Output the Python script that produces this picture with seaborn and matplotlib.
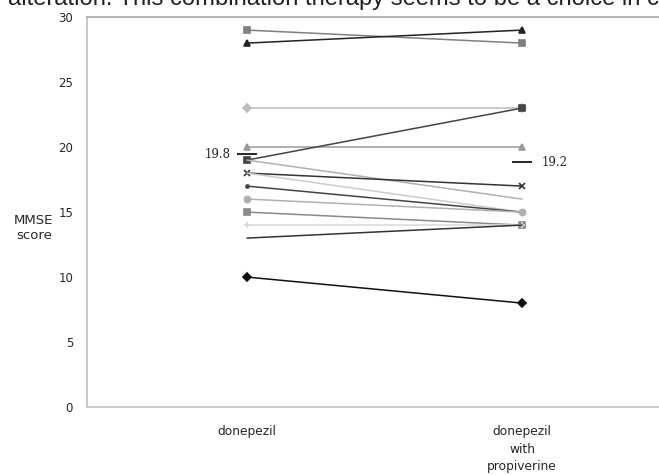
import pandas as pd
import matplotlib
matplotlib.use('Agg')
import matplotlib.pyplot as plt
import seaborn as sns

# MMSE score per patient: before (donepezil) and after (donepezil with propiverine)
conditions = ['donepezil', 'donepezil\nwith\npropiverine']
score_before = [29, 28, 23, 20, 19, 19, 18, 18, 17, 16, 15, 14, 13, 10]
score_after = [28, 29, 23, 20, 23, 16, 17, 15, 15, 15, 14, 14, 14, 8]
patient_markers = ['s', '^', 'D', '^', 's', '', 'x', '', '.', 'o', 's', '+', '', 'D']
patient_colors = ['#808080', '#222222', '#bdbdbd', '#9a9a9a', '#444444', '#b0b0b0', '#333333',
                  '#cccccc', '#444444', '#b0b0b0', '#8a8a8a', '#d8d8d8', '#333333', '#111111']

# group means (marker height and printed label)
mean_height = [19.45, 18.85]
mean_labels = ['19.8', '19.2']

caption = 'alteration. This combination therapy seems to be a choice in c'


def build_frame():
    rows = []
    for i, (b, a) in enumerate(zip(score_before, score_after)):
        rows.append({'patient': i, 'pos': 0, 'score': b})
        rows.append({'patient': i, 'pos': 1, 'score': a})
    return pd.DataFrame(rows)


def main():
    df = build_frame()

    sns.set_style('white')
    plt.rcParams['font.family'] = ['DejaVu Sans']

    fig = plt.figure(figsize=(6.59, 4.75), dpi=100)
    ax = fig.add_axes([0.132, 0.143, 0.868, 0.821])

    for i in range(len(score_before)):
        sub = df[df['patient'] == i]
        m = patient_markers[i]
        c = patient_colors[i]
        sns.lineplot(data=sub, x='pos', y='score', ax=ax, color=c,
                     linewidth=1.1, marker=m if m else None, markersize=4.5,
                     markeredgecolor=c, markerfacecolor=c,
                     markeredgewidth=1.2, legend=False)

    # mean markers with labels
    half = 0.036
    ax.hlines(mean_height[0], 0 - half, 0 + half, color='black', linewidth=1.2)
    ax.hlines(mean_height[1], 1 - half, 1 + half, color='black', linewidth=1.2)
    ax.text(-0.06, mean_height[0], mean_labels[0], ha='right', va='center',
            fontsize=8.5, family='DejaVu Serif')
    ax.text(1.07, mean_height[1], mean_labels[1], ha='left', va='center',
            fontsize=8.5, family='DejaVu Serif')

    ax.set_xlim(-0.582, 1.498)
    ax.set_ylim(0, 30)
    ax.set_yticks(range(0, 31, 5))
    ax.set_xticks([0, 1])
    ax.set_xticklabels(conditions, fontsize=8.8, linespacing=1.45, va='top')
    ax.tick_params(axis='y', length=0, pad=10, labelsize=8.5)
    ax.tick_params(axis='x', length=0, pad=13)
    ax.set_xlabel('')
    ax.set_ylabel('MMSE\nscore', rotation=0, fontsize=9.5, ha='center', va='center')
    ax.yaxis.set_label_coords(-0.093, 0.46)

    ax.spines['top'].set_color('#a8a8a8')
    for side in ['left', 'bottom']:
        ax.spines[side].set_color('#c0c0c0')
    for side in ['left', 'top', 'bottom']:
        ax.spines[side].set_linewidth(1.2)
    ax.spines['right'].set_visible(False)

    fig.text(0.012, 0.9895, caption, fontsize=17.1, family='Liberation Sans',
             color='#222222', va='baseline', ha='left')

    fig.savefig('out.png', dpi=100)


if __name__ == '__main__':
    main()
